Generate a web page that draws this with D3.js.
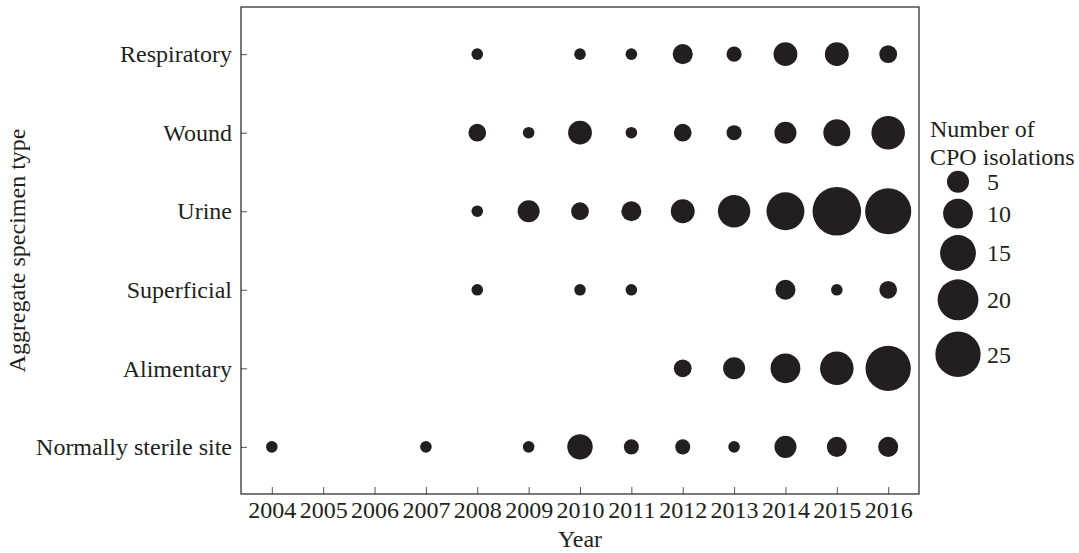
<!DOCTYPE html>
<html>
<head>
<meta charset="utf-8">
<script src="https://cdn.jsdelivr.net/npm/d3@7"></script>
<style>
  body { margin: 0; background: #fff; }
  text { font-family: "Liberation Serif", "Times New Roman", serif; fill: #231f20; }
</style>
</head>
<body>
<svg width="1079" height="553"></svg>
<script>
// CPO isolations per specimen type and year

const years = ['2004','2005','2006','2007','2008','2009','2010','2011','2012','2013','2014','2015','2016'];
const specimenTypes = ['Respiratory','Wound','Urine','Superficial','Alimentary','Normally sterile site'];

// counts per type, one entry per year (null = none)
const respiratory = [null,null,null,null,1,null,1,1,4,2,6,6,3];
const wound       = [null,null,null,null,3,1,6,1,3,2,5,8,13];
const urine       = [null,null,null,null,1,5,3,4,6,12,17,29,26];
const superficial = [null,null,null,null,1,null,1,1,null,null,4,1,3];
const alimentary  = [null,null,null,null,null,null,null,null,3,5,10,13,25];
const sterile     = [1,null,null,1,null,1,7,2,2,1,5,4,4];

const legendBreaks = [5,10,15,20,25];

const rows = [respiratory, wound, urine, superficial, alimentary, sterile];

const svg = d3.select('svg');
const panel = {left: 241, right: 919, top: 7, bottom: 494};

const x = d3.scalePoint().domain(years).range([panel.left, panel.right]).padding(0.6);
const y = d3.scalePoint().domain(specimenTypes).range([panel.top, panel.bottom]).padding(0.6);
// radius grows with sqrt of the count
const r = d3.scaleSqrt().domain([1, 25]).range([5.8, 22.65]);

// flatten into points
const points = [];
rows.forEach((vals, i) => {
    vals.forEach((v, j) => {
        if (v != null) points.push({type: specimenTypes[i], year: years[j], n: v});
    });
});

// axes, ticks drawn inward
const xAxis = svg.append('g')
    .attr('transform', `translate(0,${panel.bottom})`)
    .call(d3.axisBottom(x).tickSizeInner(-7).tickSizeOuter(0).tickPadding(7));
const yAxis = svg.append('g')
    .attr('transform', `translate(${panel.left},0)`)
    .call(d3.axisLeft(y).tickSizeInner(-6).tickSizeOuter(0).tickPadding(9));

[xAxis, yAxis].forEach(g => {
    g.select('.domain').remove();
    g.selectAll('line').attr('stroke', '#555');
    g.selectAll('text').style('font-size', '24px').attr('fill', '#231f20');
});

svg.append('rect')
    .attr('x', panel.left).attr('y', panel.top)
    .attr('width', panel.right - panel.left).attr('height', panel.bottom - panel.top)
    .attr('fill', 'none').attr('stroke', '#231f20').attr('stroke-width', 1.2);

svg.selectAll('circle.pt')
    .data(points)
    .enter()
    .append('circle').attr('class', 'pt')
    .attr('cx', d => x(d.year))
    .attr('cy', d => y(d.type))
    .attr('r', d => r(d.n))
    .attr('fill', '#231f20');

// axis titles
svg.append('text')
    .attr('x', (panel.left + panel.right) / 2).attr('y', 547)
    .attr('text-anchor', 'middle').style('font-size', '24px')
    .text('Year');

svg.append('text')
    .attr('transform', `translate(25,${(panel.top + panel.bottom) / 2}) rotate(-90)`)
    .attr('text-anchor', 'middle').style('font-size', '24px')
    .text('Aggregate specimen type');

// legend
const leg = svg.append('g');
leg.append('text').attr('x', 930).attr('y', 137).style('font-size', '24px').text('Number of');
leg.append('text').attr('x', 930).attr('y', 165).style('font-size', '24px').text('CPO isolations');

// keys get a little more room as the circles grow
let cy = 181.7;
const legItems = legendBreaks.map((b, i) => {
    if (i > 0) cy += r(legendBreaks[i - 1]) + r(b) + 6 + (i - 1) * (i - 1) * 0.6;
    return {n: b, cy: cy};
});

leg.selectAll('circle')
    .data(legItems)
    .enter()
    .append('circle')
    .attr('cx', 958)
    .attr('cy', d => d.cy)
    .attr('r', d => r(d.n))
    .attr('fill', '#231f20');

leg.selectAll('text.lab')
    .data(legItems)
    .enter()
    .append('text').attr('class', 'lab')
    .attr('x', 987)
    .attr('y', d => d.cy)
    .attr('dy', '0.35em')
    .style('font-size', '24px')
    .text(d => d.n);
</script>
</body>
</html>
